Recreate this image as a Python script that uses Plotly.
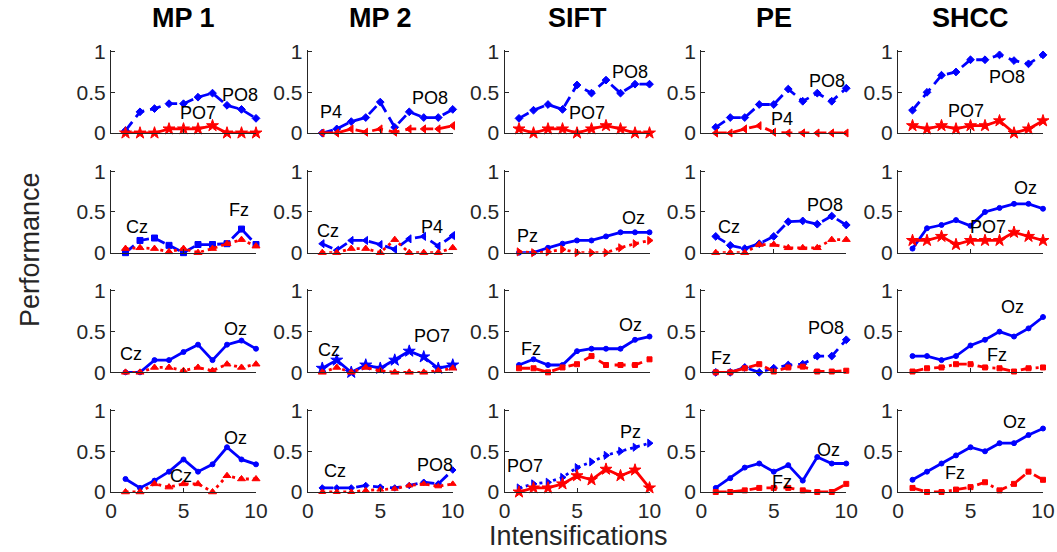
import plotly.graph_objects as go

# ---------------- data ----------------
x_vals = [1, 2, 3, 4, 5, 6, 7, 8, 9, 10]
methods = ["MP 1", "MP 2", "SIFT", "PE", "SHCC"]
x_ticks = [0, 5, 10]
y_ticks = [0, 0.5, 1]
y_ticktext = ["0", "0.5", "1"]

# each list: [MP 1, MP 2, SIFT, PE, SHCC]
blue_r1 = [
    [0.03, 0.26, 0.30, 0.36, 0.36, 0.44, 0.49, 0.34, 0.29, 0.18],
    [0.00, 0.05, 0.14, 0.19, 0.38, 0.07, 0.26, 0.19, 0.19, 0.29],
    [0.18, 0.28, 0.35, 0.29, 0.59, 0.49, 0.65, 0.49, 0.60, 0.60],
    [0.07, 0.19, 0.19, 0.35, 0.35, 0.54, 0.39, 0.49, 0.39, 0.55],
    [0.28, 0.50, 0.71, 0.75, 0.90, 0.90, 0.96, 0.89, 0.85, 0.96],
]
red_r1 = [
    [0.00, 0.00, 0.00, 0.05, 0.05, 0.05, 0.09, 0.00, 0.00, 0.00],
    [0.00, 0.00, 0.05, 0.01, 0.05, 0.01, 0.05, 0.05, 0.05, 0.09],
    [0.05, 0.00, 0.05, 0.05, 0.00, 0.05, 0.09, 0.05, 0.00, 0.00],
    [0.00, 0.00, 0.05, 0.09, 0.01, 0.00, 0.00, 0.00, 0.00, 0.00],
    [0.09, 0.05, 0.09, 0.05, 0.09, 0.09, 0.15, 0.00, 0.05, 0.15],
]
blue_r2 = [
    [0.00, 0.15, 0.18, 0.09, 0.00, 0.10, 0.10, 0.11, 0.29, 0.10],
    [0.11, 0.03, 0.15, 0.15, 0.10, 0.04, 0.17, 0.20, 0.08, 0.21],
    [0.00, 0.00, 0.06, 0.11, 0.15, 0.15, 0.20, 0.25, 0.25, 0.25],
    [0.20, 0.09, 0.05, 0.11, 0.20, 0.38, 0.39, 0.35, 0.45, 0.34],
    [0.05, 0.30, 0.34, 0.40, 0.33, 0.50, 0.55, 0.60, 0.60, 0.54],
]
red_r2 = [
    [0.05, 0.06, 0.05, 0.01, 0.05, 0.00, 0.05, 0.11, 0.16, 0.08],
    [0.00, 0.00, 0.05, 0.05, 0.00, 0.16, 0.00, 0.00, 0.00, 0.06],
    [0.01, 0.00, 0.01, 0.04, 0.00, 0.00, 0.00, 0.06, 0.11, 0.15],
    [0.00, 0.00, 0.00, 0.10, 0.10, 0.06, 0.06, 0.06, 0.16, 0.16],
    [0.15, 0.15, 0.20, 0.10, 0.15, 0.15, 0.15, 0.25, 0.20, 0.15],
]
blue_r3 = [
    [0.00, 0.00, 0.15, 0.15, 0.25, 0.34, 0.15, 0.34, 0.39, 0.29],
    [0.05, 0.15, 0.00, 0.09, 0.05, 0.15, 0.26, 0.19, 0.05, 0.09],
    [0.09, 0.16, 0.09, 0.09, 0.26, 0.29, 0.29, 0.29, 0.40, 0.44],
    [0.00, 0.00, 0.06, 0.00, 0.05, 0.09, 0.10, 0.20, 0.20, 0.40],
    [0.20, 0.20, 0.15, 0.20, 0.33, 0.40, 0.50, 0.44, 0.54, 0.68],
]
red_r3 = [
    [0.00, 0.00, 0.06, 0.06, 0.02, 0.06, 0.02, 0.10, 0.06, 0.10],
    [0.00, 0.06, 0.00, 0.06, 0.02, 0.00, 0.00, 0.00, 0.02, 0.05],
    [0.05, 0.05, 0.00, 0.06, 0.10, 0.20, 0.09, 0.09, 0.09, 0.16],
    [0.00, 0.00, 0.05, 0.10, 0.01, 0.06, 0.07, 0.01, 0.01, 0.02],
    [0.01, 0.05, 0.06, 0.10, 0.10, 0.06, 0.05, 0.01, 0.05, 0.06],
]
blue_r4 = [
    [0.16, 0.05, 0.14, 0.25, 0.40, 0.25, 0.34, 0.55, 0.40, 0.34],
    [0.05, 0.05, 0.05, 0.08, 0.06, 0.05, 0.08, 0.12, 0.10, 0.27],
    [0.05, 0.10, 0.12, 0.18, 0.30, 0.37, 0.45, 0.50, 0.55, 0.60],
    [0.05, 0.17, 0.30, 0.35, 0.25, 0.33, 0.14, 0.43, 0.35, 0.35],
    [0.15, 0.25, 0.35, 0.45, 0.55, 0.50, 0.60, 0.60, 0.70, 0.78],
]
red_r4 = [
    [0.00, 0.00, 0.10, 0.06, 0.10, 0.10, 0.00, 0.20, 0.16, 0.16],
    [0.00, 0.00, 0.00, 0.02, 0.03, 0.04, 0.08, 0.10, 0.07, 0.10],
    [0.00, 0.05, 0.05, 0.10, 0.20, 0.15, 0.28, 0.20, 0.27, 0.05],
    [0.00, 0.00, 0.02, 0.05, 0.05, 0.05, 0.02, 0.00, 0.00, 0.10],
    [0.05, 0.00, 0.00, 0.03, 0.06, 0.12, 0.02, 0.10, 0.25, 0.15],
]
# channel labels [blue label, red label] per panel
labels_r1 = [["PO8", "PO7"], ["PO8", "P4"], ["PO8", "PO7"], ["PO8", "P4"], ["PO8", "PO7"]]
labels_r2 = [["Fz", "Cz"], ["P4", "Cz"], ["Oz", "Pz"], ["PO8", "Cz"], ["Oz", "PO7"]]
labels_r3 = [["Oz", "Cz"], ["PO7", "Cz"], ["Oz", "Fz"], ["PO8", "Fz"], ["Oz", "Fz"]]
labels_r4 = [["Oz", "Cz"], ["PO8", "Cz"], ["Pz", "PO7"], ["Oz", "Fz"], ["Oz", "Fz"]]

# ---------------- styling ----------------
blue_series = [blue_r1, blue_r2, blue_r3, blue_r4]
red_series = [red_r1, red_r2, red_r3, red_r4]
label_rows = [labels_r1, labels_r2, labels_r3, labels_r4]

# label positions (data coords) [(bx, by), (rx, ry)]
label_pos = [
    [[(8.9, 0.47), (6.0, 0.25)], [(8.4, 0.43), (1.6, 0.26)], [(8.66, 0.75), (5.7, 0.25)],
     [(8.67, 0.64), (5.6, 0.17)], [(7.5, 0.69), (4.7, 0.27)]],
    [[(8.8, 0.53), (1.8, 0.32)], [(8.6, 0.31), (1.4, 0.27)], [(8.9, 0.43), (1.6, 0.2)],
     [(8.5, 0.58), (1.9, 0.32)], [(8.76, 0.79), (6.2, 0.32)]],
    [[(8.6, 0.53), (1.4, 0.23)], [(8.56, 0.45), (1.45, 0.28)], [(8.7, 0.58), (1.8, 0.29)],
     [(8.6, 0.54), (1.35, 0.18)], [(7.9, 0.8), (6.8, 0.21)]],
    [[(8.6, 0.66), (4.8, 0.2)], [(8.8, 0.33), (1.9, 0.26)], [(8.7, 0.74), (1.4, 0.32)],
     [(8.75, 0.52), (5.6, 0.12)], [(8.0, 0.86), (3.9, 0.23)]],
]

DASH = "11px,6px"
DOT = "3px,4px"
DASHDOT = "11px,4px,3px,4px"
# (dash, symbol, size)
blue_style = [
    [(DASH, "diamond", 6)] * 5,
    [(DASH, "square", 6), (DASH, "triangle-left", 7), ("solid", "circle", 5),
     (DASH, "diamond", 6), ("solid", "circle", 5)],
    [("solid", "circle", 5), ("solid", "star", 9), ("solid", "circle", 5),
     (DASH, "diamond", 6), ("solid", "circle", 5)],
    [("solid", "circle", 5), (DASH, "diamond", 5), (DOT, "triangle-right", 7),
     ("solid", "circle", 5), ("solid", "circle", 5)],
]
red_style = [
    [("solid", "star", 9), (DASH, "triangle-left", 7), ("solid", "star", 9),
     (DASH, "triangle-left", 7), ("solid", "star", 9)],
    [(DOT, "triangle-up", 7), (DOT, "triangle-up", 7), (DOT, "triangle-right", 7),
     (DOT, "triangle-up", 7), ("solid", "star", 9)],
    [(DOT, "triangle-up", 7), (DOT, "triangle-up", 7), (DASH, "square", 5),
     (DASH, "square", 5), (DASHDOT, "square", 5)],
    [(DOT, "triangle-up", 7), (DOT, "triangle-up", 6), ("solid", "star", 9),
     (DASH, "square", 5), (DASHDOT, "square", 5)],
]

W, H = 1057, 552
L, R, T, B = 111, 14, 50, 60
PW, PH = W - L - R, H - T - B
COL_W = 145
COL_GAP = (PW - 5 * COL_W) / 4
ROW_H = 83
ROW_GAP = (PH - 4 * ROW_H) / 3
FONT = "Liberation Sans, Arial, Helvetica, sans-serif"
AXC = "#262626"

fig = go.Figure()
layout = {}
annotations = []

for r in range(4):
    for c in range(5):
        i = r * 5 + c + 1
        xa = "x" if i == 1 else f"x{i}"
        ya = "y" if i == 1 else f"y{i}"
        x0 = (c * (COL_W + COL_GAP)) / PW
        x1 = (c * (COL_W + COL_GAP) + COL_W) / PW
        ytop = 1 - (r * (ROW_H + ROW_GAP)) / PH
        ybot = 1 - (r * (ROW_H + ROW_GAP) + ROW_H) / PH

        for series, style, color in ((blue_series, blue_style, "#0000FF"),
                                     (red_series, red_style, "#FF0000")):
            dash, sym, size = style[r][c]
            fig.add_trace(go.Scatter(
                x=x_vals, y=series[r][c], mode="lines+markers",
                line=dict(color=color, width=2.8, dash=dash),
                marker=dict(symbol=sym, size=size, color=color,
                            line=dict(color=color, width=1)),
                xaxis=xa, yaxis=ya, cliponaxis=False, showlegend=False,
                hoverinfo="skip"))

        common = dict(showline=True, linecolor=AXC, linewidth=1, ticks="inside",
                      ticklen=4, tickcolor=AXC, showgrid=False, zeroline=False,
                      automargin=False,
                      tickfont=dict(family=FONT, size=21, color=AXC))
        layout["xaxis" if i == 1 else f"xaxis{i}"] = dict(
            domain=[x0, x1], range=[0, 10], tickvals=x_ticks,
            showticklabels=(r == 3), anchor=ya, **common)
        layout["yaxis" if i == 1 else f"yaxis{i}"] = dict(
            domain=[ybot, ytop], range=[0, 1.02], tickvals=y_ticks,
            ticktext=y_ticktext, anchor=xa, **common)

        for k in range(2):
            lx, ly = label_pos[r][c][k]
            annotations.append(dict(
                x=lx, y=ly, xref=xa, yref=ya, text=label_rows[r][c][k],
                showarrow=False, xanchor="center", yanchor="middle",
                font=dict(family=FONT, size=18, color="#000000")))

        if r == 0:
            annotations.append(dict(
                x=(x0 + x1) / 2, y=(H - B - 18) / PH, xref="paper", yref="paper",
                text=f"<b>{methods[c]}</b>", showarrow=False,
                xanchor="center", yanchor="middle",
                font=dict(family=FONT, size=27, color="#000000")))

annotations.append(dict(
    x=(30 - L) / PW, y=(H - B - 250) / PH, xref="paper", yref="paper",
    text="Performance", textangle=-90, showarrow=False,
    xanchor="center", yanchor="middle",
    font=dict(family=FONT, size=27, color=AXC)))
annotations.append(dict(
    x=(578 - L) / PW, y=(H - B - 536) / PH, xref="paper", yref="paper",
    text="Intensifications", showarrow=False,
    xanchor="center", yanchor="middle",
    font=dict(family=FONT, size=27, color=AXC)))

fig.update_layout(
    width=W, height=H, margin=dict(l=L, r=R, t=T, b=B),
    paper_bgcolor="white", plot_bgcolor="white",
    annotations=annotations, **layout)

fig.write_html(
    "out.html",
    config={"displayModeBar": False},
    post_script="document.body.style.margin='0';document.body.style.overflow='hidden';")
